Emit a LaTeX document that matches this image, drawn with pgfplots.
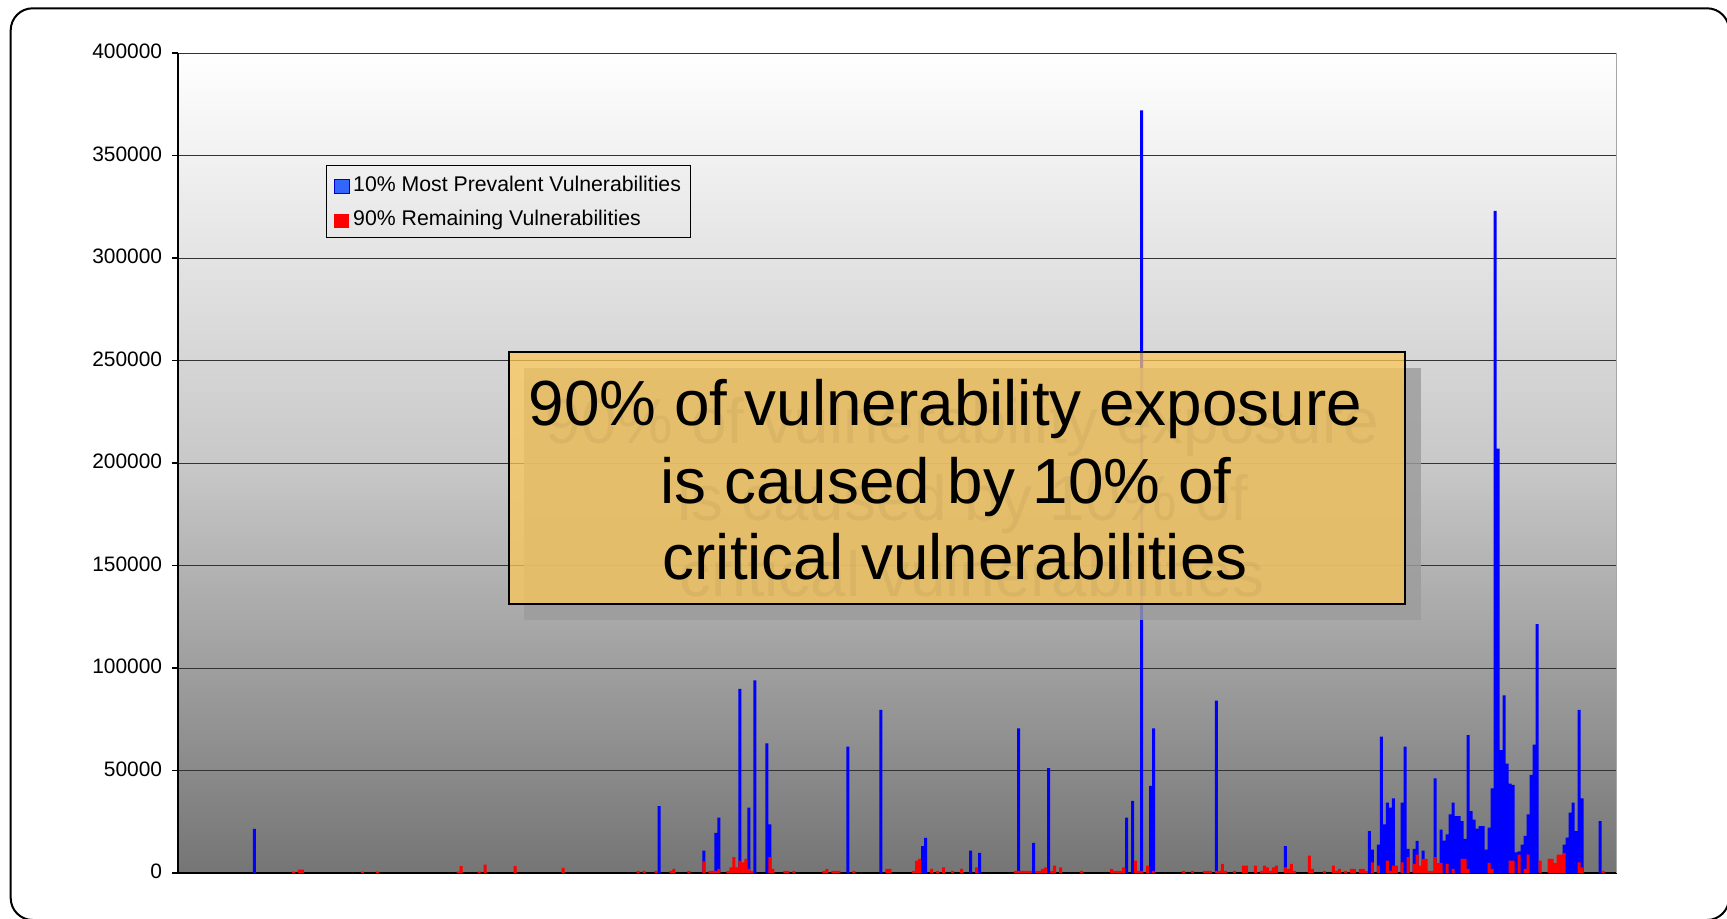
\documentclass[border=0pt]{standalone}
\usepackage{fontspec}
\setmainfont{Liberation Sans}
\usepackage{pgfplots}
\pgfplotsset{compat=1.18}
\definecolor{barblue}{RGB}{0,0,255}
\definecolor{barred}{RGB}{255,0,0}
\definecolor{boxfill}{RGB}{252,200,88}
\definecolor{boxshadow}{RGB}{156,156,156}
\definecolor{legblue}{RGB}{51,102,255}
\definecolor{legblueedge}{RGB}{0,0,204}

\begin{document}
\begin{tikzpicture}
\useasboundingbox (0,0) rectangle (172.7mm,91.8mm);
\fill[white] (0,0) rectangle (172.7mm,91.8mm);
\begin{axis}[
  at={(17.8mm,4.5mm)}, anchor=south west,
  scale only axis, width=143.85mm, height=82.0mm,
  xmin=-0.5, xmax=479.5, ymin=0, ymax=400000,
  axis lines=left,
  axis line style={-},
  x axis line style={black, line width=0.2mm},
  y axis line style={black, line width=0.13mm},
  xtick=\empty,
  ytick={0,50000,100000,150000,200000,250000,300000,350000,400000},
  scaled y ticks=false,
  /pgf/number format/assume math mode=true,
  yticklabel style={font=\fontsize{5.95}{7}\selectfont, xshift=0.25mm, yshift=0.15mm,
    /pgf/number format/fixed, /pgf/number format/1000 sep={}},
  ymajorgrids,
  grid style={black!80, line width=0.1mm},
  tick align=outside, major tick length=0.6mm,
  tick style={black, line width=0.12mm},
  axis background/.style={shade, top color=white, bottom color={rgb,255:red,117;green,117;blue,117}, middle color={rgb,255:red,200;green,200;blue,200}},
  clip=false,
]
% 10% most prevalent vulnerabilities
\addplot[ybar, bar width=1, bar shift=0pt, fill=barblue, draw=none] coordinates {
(25,21560) (160,32680) (175,10950) (179,19600) (180,26960) (187,89870)
(190,31860) (192,93950) (196,63240) (197,23700) (223,61600) (234,79580)
(248,13070) (249,17160) (264,10950) (267,9800) (280,70590) (285,14700)
(290,51140) (316,26960) (318,35130) (321,372000) (324,42480) (325,70590)
(346,84150) (369,13070) (397,20400) (398,11400) (400,13900) (401,66500)
(402,23700) (403,34300) (404,31900) (405,36400) (408,34300) (409,61600)
(410,11800) (412,11800) (413,15700) (415,10900) (419,46200) (421,21200)
(422,15800) (423,18800) (424,28600) (425,34300) (426,27800) (427,27800)
(428,25300) (429,16700) (430,67300) (431,30200) (432,26100) (433,21600)
(434,22900) (435,22900) (436,11400) (437,22100) (438,41300) (439,323000)
(440,207000) (441,60000) (442,86600) (443,53400) (444,43600) (445,43000)
(446,10100) (447,10600) (448,13900) (449,18100) (450,28600) (451,47900)
(452,62600) (453,121400) (462,13900) (463,17200) (464,29400) (465,34300)
(466,20400) (467,79600) (468,36400) (474,25300)
};
% 90% remaining vulnerabilities
\addplot[ybar, bar width=1, bar shift=0pt, fill=barred, draw=none] coordinates {
(38,650) (40,1600) (41,1600) (61,650) (66,650) (93,650) (94,3300)
(100,650) (102,4100) (112,3300) (128,2500) (153,1000) (155,1000)
(159,1000) (164,1000) (165,2000) (170,1000) (175,5700) (177,1000)
(178,1000) (179,1000) (180,2000) (183,1000) (184,2800) (185,7700)
(186,2800) (187,6000) (188,5200) (189,6900) (190,2000) (191,1000)
(197,7700) (198,2000) (202,1000) (203,1000) (205,1000) (215,1000)
(216,2000) (218,1000) (219,1000) (220,1000) (225,1000) (236,2000)
(237,2000) (245,1000) (246,6000) (247,6900) (251,2000) (253,1000)
(255,2800) (258,1000) (261,2000) (266,2800) (279,1000) (280,1000)
(281,1000) (282,1000) (283,1000) (284,1000) (286,1000) (287,1000)
(288,2000) (289,2800) (291,1000) (292,3600) (294,2800) (301,1000)
(311,2000) (312,1000) (313,1000) (314,1000) (315,2800) (319,6000)
(320,1000) (321,1000) (323,3600) (325,1000) (335,1000) (338,1000)
(342,1000) (343,1000) (344,1000) (346,1000) (347,1000) (348,4400)
(349,1000) (352,1000) (355,3600) (356,3600) (359,3600) (361,1000)
(362,3600) (363,2800) (364,1000) (365,2800) (366,3600) (369,2800)
(370,2000) (371,4400) (372,1000) (377,8500) (378,2000) (382,1000)
(385,3600) (386,1000) (387,2000) (389,1000) (391,2000) (392,2000)
(394,2000) (395,2000) (396,1000) (398,5200) (400,3600) (403,6000)
(404,1000) (405,3600) (406,3600) (408,5200) (410,7700) (412,4400)
(413,9000) (414,3600) (415,6900) (416,6900) (417,1000) (418,1000)
(419,7700) (420,4900) (421,4900) (423,4400) (425,2000) (428,6900)
(429,6900) (430,2000) (437,4900) (438,2000) (444,6000) (445,6000)
(447,9000) (449,2000) (450,9000) (454,6000) (457,6900) (458,6900)
(459,4900) (460,9000) (461,9000) (462,9800) (467,5200) (468,2800)
(475,1000)
};
\draw[black!35, line width=0.1mm] (rel axis cs:1,0) -- (rel axis cs:1,1);
\end{axis}

\begin{scope}[x=0.1mm, y=-0.1mm, shift={(0,91.8mm)}]
  % outer rounded frame
  \draw[black, line width=0.2mm, rounded corners=2.2mm] (10.7,8.3) rectangle (1729,920);
  % legend
  \draw[black, line width=0.1mm] (326.7,165.7) rectangle (690.7,237.3);
  \filldraw[fill=legblue, draw=legblueedge, line width=0.1mm] (334.3,180) rectangle (349,193.3);
  \fill[barred] (334.3,214.3) rectangle (349,227.7);
  \node[anchor=base west, inner sep=0pt, font=\fontsize{6.05}{7}\selectfont] at (352.5,191.7) {10\% Most Prevalent Vulnerabilities};
  \node[anchor=base west, inner sep=0pt, font=\fontsize{6.05}{7}\selectfont] at (352.5,226) {90\% Remaining Vulnerabilities};
  % annotation box with shadow
  \fill[boxshadow, opacity=0.82] (524,368) rectangle (1421,620);
  \filldraw[fill=boxfill, fill opacity=0.74, draw=black, line width=0.18mm] (509,352.3) rectangle (1405,604);
  \begin{scope}[opacity=0.045]
    \node[anchor=base west, inner sep=0pt, font=\fontsize{18.15}{21}\selectfont] at (545,443) {90\% of vulnerability exposure};
    \node[anchor=base west, inner sep=0pt, font=\fontsize{18.15}{21}\selectfont] at (677,520) {is caused by 10\% of};
    \node[anchor=base west, inner sep=0pt, font=\fontsize{18.15}{21}\selectfont] at (679,596) {critical vulnerabilities};
  \end{scope}
  \node[anchor=base west, inner sep=0pt, font=\fontsize{18.15}{21}\selectfont] at (528,426) {90\% of vulnerability exposure};
  \node[anchor=base west, inner sep=0pt, font=\fontsize{18.15}{21}\selectfont] at (660,503) {is caused by 10\% of};
  \node[anchor=base west, inner sep=0pt, font=\fontsize{18.15}{21}\selectfont] at (662,579) {critical vulnerabilities};
\end{scope}
\end{tikzpicture}
\end{document}
